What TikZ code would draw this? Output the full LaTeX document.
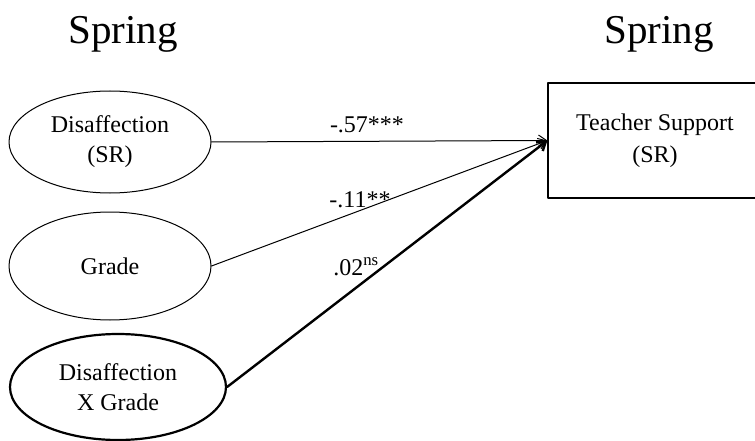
\documentclass[tikz,border=0pt]{standalone}
\usepackage{fontspec}
\setmainfont{Liberation Serif}
\usetikzlibrary{arrows.meta,shapes.geometric}
\tikzset{
  every picture/.style={line join=round, line cap=round, >=Stealth},
  latent/.style={ellipse, draw, line width=1pt, inner sep=0pt, align=center, font=\fontsize{24}{30}\selectfont},
  outcome/.style={rectangle, draw, line width=1.2pt, inner sep=0pt, align=center, font=\fontsize{24}{32}\selectfont},
  coef/.style={anchor=base, inner sep=0pt, font=\fontsize{24}{28}\selectfont},
  wave/.style={font=\fontsize{41}{48}\selectfont},
}

\begin{document}
\begin{tikzpicture}[x=1pt,y=-1pt]
\useasboundingbox (0,0) rectangle (755,441);
\node[wave](w1) at (123,34){Spring};
\node[wave](w2) at (659,34){Spring};
\node[latent,minimum width=202pt,minimum height=102pt](dis) at (110,142){Disaffection\\(SR)};
\node[latent,minimum width=202pt,minimum height=108pt](gr) at (110,266){Grade};
\node[latent,line width=2.2pt,minimum width=216pt,minimum height=106pt](dxg) at (118,387){Disaffection\\X Grade};
\node[outcome,minimum width=214pt,minimum height=115pt](ts) at (655,140.5){Teacher Support\\(SR)};
\draw[-{Straight Barb[length=8pt,width=11pt]},line width=1pt](dis.east)--(ts.west);
\draw[-{Straight Barb[length=8pt,width=11pt]},line width=1pt](gr.east)--(ts.west);
\draw[-{Straight Barb[length=8pt,width=11pt]},line width=2.4pt](dxg.east)--(ts.west);
\node[coef](c1) at (367,133){-.57***};
\node[coef](c2) at (360,207){-.11**};
\node[coef](c3) at (356,275){.02\textsuperscript{ns}};
\end{tikzpicture}
\end{document}
